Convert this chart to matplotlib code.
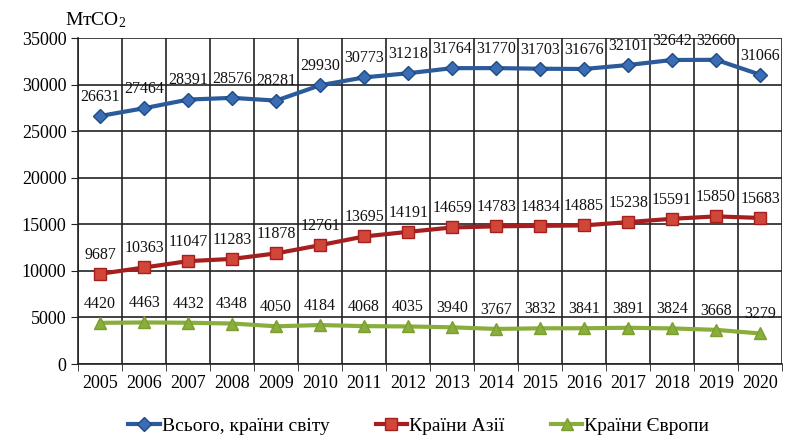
import numpy as np
import matplotlib.pyplot as plt

plt.rcParams['font.family'] = ['Liberation Serif', 'DejaVu Serif']
plt.rcParams['mathtext.fontset'] = 'custom'
plt.rcParams['mathtext.rm'] = 'Liberation Serif'
plt.rcParams['mathtext.it'] = 'Liberation Serif:italic'

years = ['2005', '2006', '2007', '2008', '2009', '2010', '2011', '2012',
         '2013', '2014', '2015', '2016', '2017', '2018', '2019', '2020']
world = [26631, 27464, 28391, 28576, 28281, 29930, 30773, 31218,
         31764, 31770, 31703, 31676, 32101, 32642, 32660, 31066]
asia = [9687, 10363, 11047, 11283, 11878, 12761, 13695, 14191,
        14659, 14783, 14834, 14885, 15238, 15591, 15850, 15683]
europe = [4420, 4463, 4432, 4348, 4050, 4184, 4068, 4035,
          3940, 3767, 3832, 3841, 3891, 3824, 3668, 3279]

fig = plt.figure(figsize=(7.9, 4.37), dpi=100)
ax = fig.add_axes([0.099, 0.167, 0.891, 0.746])

x = np.arange(len(years))
ax.plot(x, world, color='#2B5B9B', lw=3, marker='D', ms=7,
        mfc='#3A6DB3', mec='#1F4A85', label='Всього, країни світу', zorder=3)
ax.plot(x, asia, color='#A51F1F', lw=3, marker='s', ms=9,
        mfc='#D0473A', mec='#A51F1F', label='Країни Азії', zorder=3)
ax.plot(x, europe, color='#8AAE3C', lw=3, marker='^', ms=8,
        mfc='#8AAE3C', mec='#7A9E30', label='Країни Європи', zorder=3)

# value labels above every point
for series in (world, asia, europe):
    for xi, v in zip(x, series):
        ax.annotate(str(v), (xi, v), xytext=(0, 8), textcoords='offset points',
                    ha='center', va='bottom', fontsize=11.5, color='#111111',
                    zorder=4)

ax.set_xlim(-0.5, len(years) - 0.5)
ax.set_ylim(0, 35000)
ax.set_yticks(np.arange(0, 35001, 5000))
ax.set_xticks(x)
ax.set_xticklabels(years)
ax.set_xticks(np.arange(-0.5, len(years), 1), minor=True)
ax.tick_params(axis='x', which='major', length=0, labelsize=13, pad=8)
ax.tick_params(axis='x', which='minor', length=5, color='#222222')
ax.tick_params(axis='y', length=5, labelsize=13, color='#222222')

ax.grid(True, axis='y', color='#222222', lw=1.2)
ax.grid(True, axis='x', which='minor', color='#222222', lw=1.2)
ax.set_axisbelow(True)
for s in ('top', 'right'):
    ax.spines[s].set_visible(False)
ax.spines['left'].set_color('#222222')
ax.spines['bottom'].set_color('#222222')
ax.spines['left'].set_linewidth(1.2)
ax.spines['bottom'].set_linewidth(1.2)

fig.text(0.082, 0.955, r'Мт$\mathregular{CO_2}$', fontsize=14, ha='left', va='center')

fig.legend(loc='lower center', bbox_to_anchor=(0.53, -0.035), ncol=3,
           frameon=False, fontsize=14, handlelength=1.6, handletextpad=0.1,
           columnspacing=2.4)

fig.savefig('out.png', dpi=100)
